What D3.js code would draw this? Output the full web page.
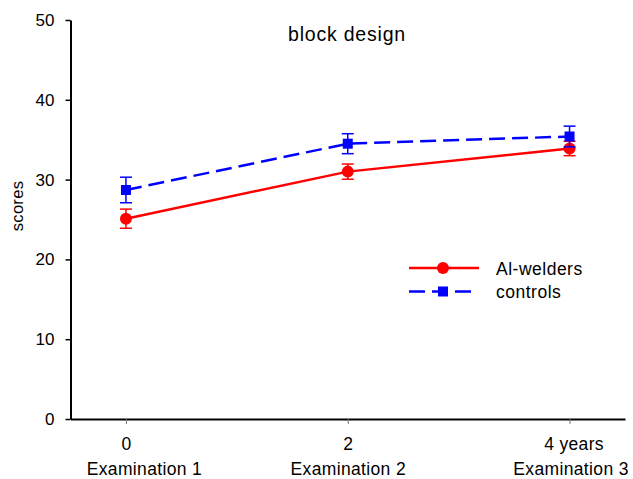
<!DOCTYPE html>
<html>
<head>
<meta charset="utf-8">
<script src="https://cdn.jsdelivr.net/npm/d3@7"></script>
<style>
  body { margin: 0; background: #fff; }
  svg { display: block; font-family: "Liberation Sans", Arial, Helvetica, sans-serif; }
</style>
</head>
<body>
<svg id="chart" width="633" height="479"></svg>
<script>
// Time points (years since first examination) and their labels
const years = [0, 2, 4];
const yearLabels = ["0", "2", "4 years"];
const examLabels = ["Examination 1", "Examination 2", "Examination 3"];

// Block design scores: mean and standard error per examination
const welderMeans = [25.1, 31.0, 33.9];
const welderErrors = [1.2, 0.95, 0.9];
const controlMeans = [28.7, 34.5, 35.4];
const controlErrors = [1.6, 1.25, 1.3];

const yTicks = [0, 10, 20, 30, 40, 50];

const svg = d3.select("#chart");

const x = d3.scaleLinear().domain([-0.5, 4.5]).range([70.5, 625]);
const y = d3.scaleLinear().domain([0, 50]).range([419, 20]);

// Y axis
const yAxis = svg.append("g")
  .attr("transform", "translate(70.5,0)")
  .call(d3.axisLeft(y).tickValues(yTicks).tickSize(5).tickSizeOuter(0).tickPadding(11));
yAxis.select(".domain").attr("stroke", "#000").attr("stroke-width", 2);
yAxis.selectAll(".tick line").attr("stroke", "#000").attr("stroke-width", 1.5);
yAxis.selectAll(".tick text").attr("font-size", 17).attr("fill", "#000")
  .attr("font-family", "Liberation Sans, Arial, sans-serif");

// X axis
const xAxis = svg.append("g")
  .attr("transform", "translate(0,419)")
  .call(d3.axisBottom(x).tickValues(years).tickSize(5).tickSizeOuter(0));
xAxis.select(".domain").attr("stroke", "#000").attr("stroke-width", 2);
xAxis.selectAll(".tick line").attr("stroke", "#777").attr("stroke-width", 1);
xAxis.selectAll(".tick text").remove();
// small offsets keep the outer labels inside the frame
const yearShift = [0, 0, 4];
const examShift = [18, 0, 1];
xAxis.selectAll(".tick").each(function(d, i) {
  const t = d3.select(this).append("text")
    .attr("fill", "#000")
    .attr("font-size", 17.5)
    .attr("letter-spacing", 0.35)
    .attr("text-anchor", "middle");
  t.append("tspan").attr("x", yearShift[i]).attr("y", 31).text(yearLabels[i]);
  t.append("tspan").attr("x", examShift[i]).attr("y", 56).text(examLabels[i]);
});

// Y axis title
svg.append("text")
  .attr("transform", "translate(23,206) rotate(-90)")
  .attr("text-anchor", "middle")
  .attr("font-size", 16.5)
  .attr("letter-spacing", 0.3)
  .text("scores");

// Chart title
svg.append("text")
  .attr("x", 347).attr("y", 41)
  .attr("text-anchor", "middle")
  .attr("font-size", 19.5)
  .attr("letter-spacing", 0.8)
  .text("block design");

function drawSeries(means, errors, color, dash, marker) {
  const pts = years.map((t, i) => ({ t, m: means[i], e: errors[i] }));
  const g = svg.append("g");
  // error bars
  pts.forEach(p => {
    g.append("line")
      .attr("x1", x(p.t)).attr("x2", x(p.t))
      .attr("y1", y(p.m - p.e)).attr("y2", y(p.m + p.e))
      .attr("stroke", color).attr("stroke-width", 1.5);
    [p.m - p.e, p.m + p.e].forEach(v => {
      g.append("line")
        .attr("x1", x(p.t) - 6).attr("x2", x(p.t) + 6)
        .attr("y1", y(v)).attr("y2", y(v))
        .attr("stroke", color).attr("stroke-width", 1.5);
    });
  });
  // connecting line
  g.append("path")
    .datum(pts)
    .attr("fill", "none")
    .attr("stroke", color)
    .attr("stroke-width", 2.5)
    .attr("stroke-dasharray", dash)
    .attr("d", d3.line().x(p => x(p.t)).y(p => y(p.m)));
  // markers
  pts.forEach(p => marker(g, x(p.t), y(p.m)));
}

const circle = (g, cx, cy) => g.append("circle").attr("cx", cx).attr("cy", cy).attr("r", 6).attr("fill", "#ff0000");
const square = (g, cx, cy) => g.append("rect").attr("x", cx - 5).attr("y", cy - 5).attr("width", 10).attr("height", 10).attr("fill", "#0000ff");

drawSeries(welderMeans, welderErrors, "#ff0000", null, circle);
drawSeries(controlMeans, controlErrors, "#0000ff", "16,7", square);

// Legend
const legend = svg.append("g");
const entries = [
  { label: "Al-welders", color: "#ff0000", dash: null, marker: circle, y: 268, x2: 479 },
  { label: "controls", color: "#0000ff", dash: "16,7", marker: square, y: 291.5, x2: 472 }
];
entries.forEach(e => {
  legend.append("line")
    .attr("x1", 409).attr("x2", e.x2).attr("y1", e.y).attr("y2", e.y)
    .attr("stroke", e.color).attr("stroke-width", 2.5)
    .attr("stroke-dasharray", e.dash);
  e.marker(legend, 443, e.y);
  legend.append("text")
    .attr("x", 496).attr("y", e.y + 6.5)
    .attr("font-size", 17.5)
    .attr("letter-spacing", 0.5)
    .text(e.label);
});
</script>
</body>
</html>
